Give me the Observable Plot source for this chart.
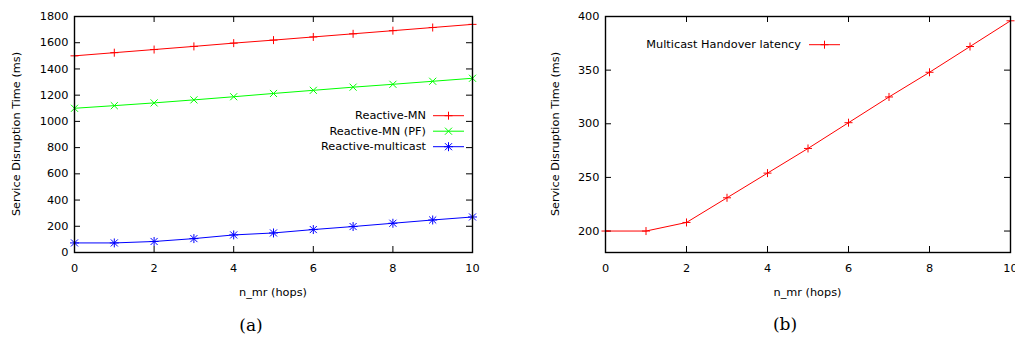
<!DOCTYPE html>
<html>
<head>
<meta charset="utf-8">
<script src="https://cdn.jsdelivr.net/npm/d3@7"></script>
<script src="https://cdn.jsdelivr.net/npm/@observablehq/plot@0.6"></script>
<style>
  html, body { margin: 0; padding: 0; background: white; overflow: hidden; }
  #wrap { position: relative; width: 1015px; height: 340px; overflow: hidden; background: white; }
  #wrap > * { position: absolute; }
</style>
</head>
<body>
<div id="wrap"></div>
<script>
// ---- data ----
const hops = [0, 1, 2, 3, 4, 5, 6, 7, 8, 9, 10];
const reactiveMN = [1500, 1524, 1548, 1572, 1597, 1620, 1644, 1668, 1692, 1716, 1740];
const reactiveMNPF = [1100, 1120, 1141, 1164, 1188, 1213, 1237, 1261, 1283, 1306, 1329];
const reactiveMulticast = [73, 73, 84, 106, 134, 149, 175, 198, 223, 248, 271];
const multicastHandover = [200, 200, 208, 231, 254, 277, 301, 325, 348, 372, 396];

const xTicks = [0, 2, 4, 6, 8, 10];
const yTicksA = [0, 200, 400, 600, 800, 1000, 1200, 1400, 1600, 1800];
const yTicksB = [200, 250, 300, 350, 400];

const seriesA = [
  {name: "Reactive-MN", values: reactiveMN, color: "#ff0000", symbols: [["plus", 2.7]]},
  {name: "Reactive-MN (PF)", values: reactiveMNPF, color: "#00ff00", symbols: [["times", 3.3]]},
  {name: "Reactive-multicast", values: reactiveMulticast, color: "#0000ff", symbols: [["plus", 3.0], ["times", 3.3]]}
];
const seriesB = [
  {name: "Multicast Handover latency", values: multicastHandover, color: "#ff0000", symbols: [["plus", 2.7]]}
];

const FONT = "DejaVu Sans";
const FS = 11.3;
const TICK = 6;

function panel({width, height, mt, mr, mb, ml, yDomain, yTicks, series}) {
  const fw = width - ml - mr, fh = height - mt - mb;
  const marks = [
    Plot.axisX(xTicks, {tickSize: 0, tickPadding: 11, label: null, tickFormat: d => String(d)}),
    Plot.axisY(yTicks, {tickSize: 0, tickPadding: 6, label: null, tickFormat: d => String(d)}),
    Plot.tickX(xTicks, {x: d => d, insetTop: fh - TICK, stroke: "black", strokeWidth: 1}),
    Plot.tickX(xTicks, {x: d => d, insetBottom: fh - TICK, stroke: "black", strokeWidth: 1}),
    Plot.tickY(yTicks, {y: d => d, insetRight: fw - TICK, stroke: "black", strokeWidth: 1}),
    Plot.tickY(yTicks, {y: d => d, insetLeft: fw - TICK, stroke: "black", strokeWidth: 1})
  ];
  for (const s of series) {
    const rows = hops.map((h, i) => ({x: h, y: s.values[i]}));
    marks.push(Plot.line(rows, {x: "x", y: "y", stroke: s.color, strokeWidth: 1, clip: true}));
    for (const [sym, r] of s.symbols) {
      marks.push(Plot.dot(rows, {x: "x", y: "y", symbol: sym, r, stroke: s.color, strokeWidth: 1, fill: "none"}));
    }
  }
  marks.push(Plot.frame({stroke: "black", strokeWidth: 1.4}));
  return Plot.plot({
    width, height, marginTop: mt, marginRight: mr, marginBottom: mb, marginLeft: ml,
    style: {fontFamily: FONT, fontSize: FS + "px", color: "black", background: "transparent", overflow: "visible"},
    x: {domain: [0, 10]},
    y: {domain: yDomain},
    marks
  });
}

const wrap = document.getElementById("wrap");

const pa = panel({width: 500, height: 310, mt: 16, mr: 28, mb: 58, ml: 74, yDomain: [0, 1800], yTicks: yTicksA, series: seriesA});
pa.style.left = "0px"; pa.style.top = "0px";
wrap.appendChild(pa);

const pb = panel({width: 485, height: 310, mt: 16, mr: 5, mb: 58, ml: 75, yDomain: [180, 400], yTicks: yTicksB, series: seriesB});
pb.style.left = "530px"; pb.style.top = "0px";
wrap.appendChild(pb);

// ---- overlay: axis titles, legends, captions ----
const ov = d3.select(wrap).append("svg")
  .attr("width", 1015).attr("height", 340)
  .style("left", "0px").style("top", "0px")
  .attr("font-family", FONT).attr("font-size", FS);

function yTitle(x, y) {
  ov.append("text").attr("transform", `translate(${x},${y}) rotate(-90)`)
    .attr("text-anchor", "middle").attr("dominant-baseline", "central")
    .text("Service Disruption Time (ms)");
}
function xTitle(x, y) {
  ov.append("text").attr("x", x).attr("y", y).attr("text-anchor", "middle")
    .attr("dominant-baseline", "central").text("n_mr (hops)");
}
yTitle(16, 134); xTitle(273, 292);
yTitle(555, 134); xTitle(807.5, 292);

const symMap = {plus: d3.symbolPlus, times: d3.symbolTimes};
function legend(series, textRight, lineX1, lineX2, y0, dy) {
  series.forEach((s, i) => {
    const y = y0 + i * dy;
    ov.append("text").attr("x", textRight).attr("y", y).attr("text-anchor", "end")
      .attr("dominant-baseline", "central").text(s.name);
    ov.append("line").attr("x1", lineX1).attr("x2", lineX2).attr("y1", y).attr("y2", y)
      .attr("stroke", s.color).attr("stroke-width", 1);
    const cx = (lineX1 + lineX2) / 2;
    for (const [sym, r] of s.symbols) {
      ov.append("path").attr("transform", `translate(${cx},${y})`)
        .attr("d", d3.symbol(symMap[sym], Math.PI * r * r)())
        .attr("fill", "none").attr("stroke", s.color).attr("stroke-width", 1);
    }
  });
}
legend(seriesA, 426, 433, 464, 115.7, 15.5);
legend(seriesB, 801, 809, 840, 44.7, 15.5);

function caption(x, y, t) {
  ov.append("text").attr("x", x).attr("y", y).attr("text-anchor", "middle")
    .attr("dominant-baseline", "central").attr("font-family", "DejaVu Serif")
    .attr("font-size", 17).text(t);
}
caption(251, 325, "(a)");
caption(785, 324, "(b)");
</script>
</body>
</html>
